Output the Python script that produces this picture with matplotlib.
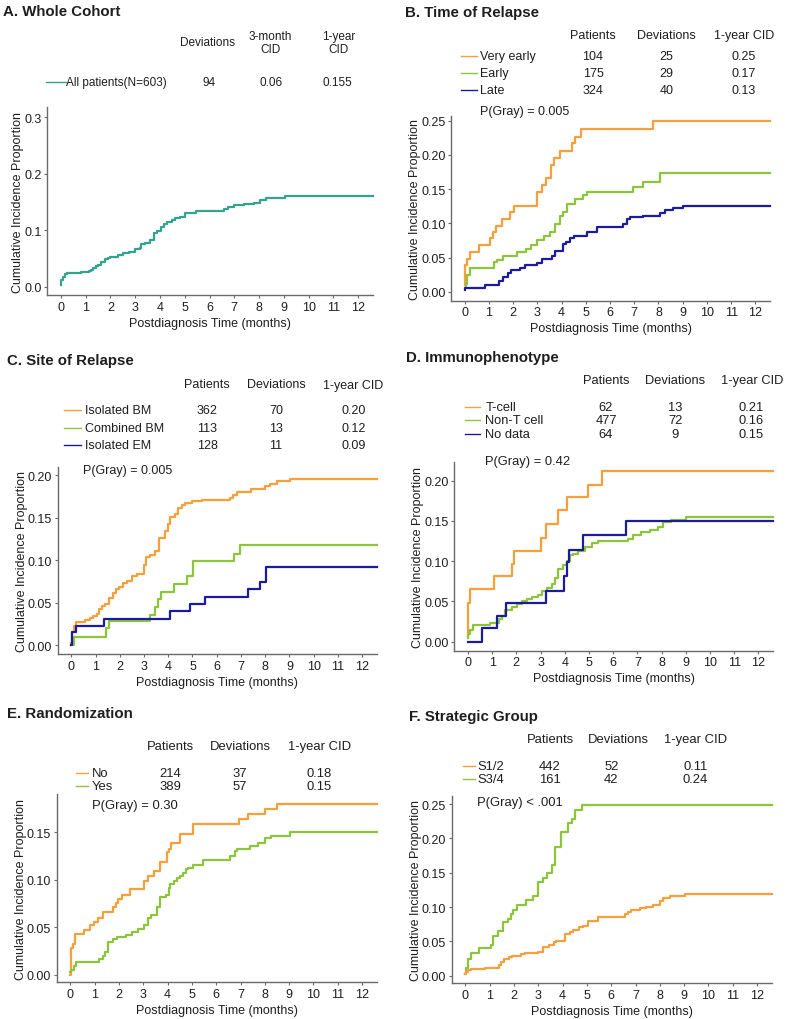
import matplotlib
matplotlib.use("Agg")
import matplotlib.pyplot as plt
from matplotlib.ticker import FormatStrFormatter

plt.rcParams['font.family'] = ['Liberation Sans', 'DejaVu Sans']

W, H = 785, 1020
ORANGE = '#f5a03a'
GREEN = '#8cc43c'
BLUE = '#1b1b9c'
TEAL = '#33a38d'
TXT = '#1e1e1e'
AXC = '#6a6a6a'

MONTHS = list(range(13))
END_TIME = 12.6  # end of follow-up shown

# ---- A. whole cohort: (time in months, cumulative incidence)
a_all = [(0, 0.003), (0.02, 0.011), (0.07, 0.0165), (0.17, 0.022), (0.23, 0.0235),
         (0.8, 0.025), (0.95, 0.0265), (1.12, 0.028), (1.2, 0.030), (1.3, 0.033),
         (1.4, 0.036), (1.5, 0.039), (1.6, 0.044), (1.8, 0.048), (1.9, 0.051),
         (2.0, 0.053), (2.3, 0.056), (2.5, 0.059), (2.75, 0.061), (3.0, 0.067),
         (3.2, 0.069), (3.25, 0.075), (3.4, 0.077), (3.6, 0.083), (3.75, 0.094),
         (3.9, 0.098), (4.05, 0.105), (4.15, 0.111), (4.3, 0.114), (4.5, 0.118),
         (4.6, 0.121), (4.8, 0.124), (5.0, 0.131), (5.45, 0.134), (6.6, 0.137),
         (6.75, 0.141), (7.0, 0.144), (7.4, 0.147), (7.8, 0.148), (8.05, 0.153),
         (8.3, 0.156), (8.6, 0.157), (9.05, 0.160)]
a_headers = ['Deviations', '3-month\nCID', '1-year\nCID']
a_names = ['All patients(N=603)']
a_devs = ['94']
a_cid3 = ['0.06']
a_cid12 = ['0.155']

# ---- B. time of relapse
b_very_early = [(0, 0.010), (0.03, 0.039), (0.1, 0.048), (0.23, 0.058), (0.58, 0.068),
                (1.06, 0.078), (1.17, 0.088), (1.3, 0.096), (1.54, 0.107), (1.88, 0.117),
                (2.02, 0.126), (3.0, 0.146), (3.2, 0.156), (3.37, 0.166), (3.56, 0.186),
                (3.7, 0.196), (3.94, 0.206), (4.42, 0.218), (4.56, 0.227), (4.79, 0.238),
                (7.79, 0.250)]
b_early = [(0, 0.006), (0.07, 0.011), (0.12, 0.024), (0.23, 0.035), (1.2, 0.043),
           (1.33, 0.047), (1.58, 0.053), (2.18, 0.058), (2.54, 0.063), (2.73, 0.068),
           (2.98, 0.076), (3.28, 0.081), (3.53, 0.088), (3.74, 0.099), (3.94, 0.111),
           (4.05, 0.117), (4.22, 0.128), (4.56, 0.135), (4.9, 0.141), (5.04, 0.146),
           (6.96, 0.153), (7.38, 0.160), (8.06, 0.173)]
b_late = [(0, 0.002), (0.02, 0.006), (0.85, 0.010), (1.44, 0.016), (1.57, 0.022),
          (1.79, 0.028), (1.92, 0.032), (2.3, 0.035), (2.5, 0.039), (2.98, 0.042),
          (3.19, 0.048), (3.6, 0.053), (3.74, 0.060), (4.05, 0.070), (4.19, 0.073),
          (4.33, 0.078), (4.52, 0.082), (5.04, 0.088), (5.45, 0.095), (6.55, 0.099),
          (6.72, 0.106), (6.83, 0.109), (7.38, 0.111), (8.06, 0.115), (8.27, 0.120),
          (8.6, 0.123), (9.0, 0.126)]
b_names = ['Very early', 'Early', 'Late']
b_patients = ['104', '175', '324']
b_devs = ['25', '29', '40']
b_cid = ['0.25', '0.17', '0.13']

# ---- C. site of relapse
c_iso_bm = [(0, 0.003), (0.02, 0.016), (0.1, 0.022), (0.2, 0.027), (0.58, 0.030),
            (0.78, 0.032), (0.9, 0.034), (1.06, 0.037), (1.15, 0.043), (1.26, 0.046),
            (1.4, 0.048), (1.54, 0.055), (1.74, 0.061), (1.84, 0.066), (1.95, 0.069),
            (2.12, 0.073), (2.3, 0.076), (2.5, 0.081), (2.73, 0.084), (2.98, 0.095),
            (3.08, 0.104), (3.25, 0.106), (3.46, 0.111), (3.6, 0.126), (3.87, 0.134),
            (3.98, 0.143), (4.08, 0.151), (4.29, 0.155), (4.4, 0.162), (4.56, 0.165),
            (4.7, 0.167), (4.97, 0.170), (5.38, 0.171), (6.55, 0.173), (6.69, 0.177),
            (6.83, 0.180), (7.42, 0.184), (8.0, 0.1875), (8.2, 0.190), (8.48, 0.193),
            (9.02, 0.196)]
c_comb_bm = [(0, 0.0), (0.1, 0.009), (1.43, 0.020), (1.54, 0.028), (3.26, 0.036),
             (3.45, 0.045), (3.56, 0.054), (3.7, 0.063), (4.22, 0.072), (4.77, 0.081),
             (5.04, 0.099), (6.73, 0.108), (6.96, 0.118)]
c_iso_em = [(0, 0.0), (0.01, 0.016), (0.19, 0.023), (1.33, 0.031), (4.08, 0.040),
            (4.9, 0.048), (5.52, 0.057), (7.31, 0.066), (7.79, 0.074), (8.04, 0.092)]
c_names = ['Isolated BM', 'Combined BM', 'Isolated EM']
c_patients = ['362', '113', '128']
c_devs = ['70', '13', '11']
c_cid = ['0.20', '0.12', '0.09']

# ---- D. immunophenotype
d_tcell = [(0, 0.010), (0.02, 0.048), (0.1, 0.065), (1.09, 0.081), (1.81, 0.096),
           (1.91, 0.113), (3.02, 0.129), (3.21, 0.146), (3.74, 0.163), (4.08, 0.179),
           (4.95, 0.195), (5.52, 0.212)]
d_nont = [(0, 0.005), (0.02, 0.0095), (0.1, 0.014), (0.23, 0.021), (0.9, 0.023),
          (1.27, 0.028), (1.4, 0.032), (1.54, 0.039), (1.81, 0.043), (2.02, 0.047),
          (2.23, 0.050), (2.43, 0.053), (2.64, 0.055), (2.88, 0.058), (3.05, 0.063),
          (3.26, 0.067), (3.46, 0.072), (3.6, 0.079), (3.74, 0.090), (3.94, 0.095),
          (4.08, 0.100), (4.22, 0.107), (4.35, 0.109), (4.53, 0.113), (4.84, 0.118),
          (5.11, 0.122), (5.38, 0.125), (6.62, 0.128), (6.83, 0.132), (7.17, 0.136),
          (7.51, 0.139), (7.86, 0.142), (8.06, 0.148), (8.4, 0.151), (9.02, 0.1545)]
d_nodata = [(0, 0.0), (0.58, 0.0166), (1.2, 0.032), (1.57, 0.048), (3.21, 0.063),
            (3.98, 0.081), (4.08, 0.0985), (4.18, 0.114), (4.77, 0.132), (6.55, 0.150)]
d_names = ['T-cell', 'Non-T cell', 'No data']
d_patients = ['62', '477', '64']
d_devs = ['13', '72', '9']
d_cid = ['0.21', '0.16', '0.15']

# ---- E. randomization
e_no = [(0, 0.0), (0.02, 0.028), (0.1, 0.032), (0.2, 0.043), (0.58, 0.047),
        (0.81, 0.052), (0.99, 0.056), (1.13, 0.060), (1.33, 0.066), (1.74, 0.071),
        (1.88, 0.076), (1.98, 0.080), (2.12, 0.084), (2.47, 0.090), (3.01, 0.099),
        (3.21, 0.104), (3.46, 0.109), (3.67, 0.119), (3.96, 0.129), (4.04, 0.133),
        (4.15, 0.139), (4.53, 0.148), (5.04, 0.159), (6.94, 0.164), (7.31, 0.169),
        (8.02, 0.175), (8.5, 0.180)]
e_yes = [(0, 0.0025), (0.03, 0.005), (0.14, 0.0095), (0.23, 0.013), (1.2, 0.0165),
         (1.33, 0.020), (1.43, 0.024), (1.54, 0.034), (1.74, 0.038), (1.92, 0.040),
         (2.29, 0.042), (2.53, 0.0446), (2.77, 0.048), (3.01, 0.0527), (3.19, 0.060),
         (3.32, 0.063), (3.57, 0.071), (3.67, 0.0815), (3.94, 0.084), (4.04, 0.091),
         (4.12, 0.0955), (4.26, 0.099), (4.4, 0.1015), (4.5, 0.104), (4.63, 0.107),
         (4.77, 0.111), (4.86, 0.113), (5.04, 0.116), (5.45, 0.121), (6.55, 0.1255),
         (6.76, 0.130), (6.87, 0.1325), (7.38, 0.136), (7.72, 0.139), (8.02, 0.144),
         (8.27, 0.1465), (9.02, 0.150)]
e_names = ['No', 'Yes']
e_patients = ['214', '389']
e_devs = ['37', '57']
e_cid = ['0.18', '0.15']

# ---- F. strategic group
f_s12 = [(0, 0.002), (0.02, 0.005), (0.1, 0.008), (0.23, 0.0097), (0.82, 0.012),
         (1.4, 0.0155), (1.47, 0.0194), (1.6, 0.024), (1.81, 0.027), (1.92, 0.029),
         (2.29, 0.031), (2.47, 0.033), (2.98, 0.035), (3.21, 0.042), (3.43, 0.045),
         (3.63, 0.0485), (3.74, 0.051), (4.08, 0.061), (4.29, 0.064), (4.42, 0.067),
         (4.67, 0.0705), (4.84, 0.073), (5.04, 0.080), (5.45, 0.085), (6.55, 0.090),
         (6.69, 0.093), (6.83, 0.096), (7.17, 0.098), (7.45, 0.100), (7.72, 0.103),
         (8.0, 0.109), (8.13, 0.1126), (8.4, 0.1155), (8.57, 0.1165), (9.02, 0.119)]
f_s34 = [(0, 0.002), (0.02, 0.012), (0.12, 0.025), (0.23, 0.033), (0.58, 0.040),
         (1.06, 0.045), (1.15, 0.058), (1.33, 0.065), (1.54, 0.078), (1.77, 0.083),
         (1.88, 0.090), (1.98, 0.096), (2.12, 0.103), (2.5, 0.110), (2.77, 0.116),
         (2.98, 0.136), (3.21, 0.143), (3.35, 0.150), (3.57, 0.161), (3.67, 0.187),
         (3.94, 0.209), (4.22, 0.222), (4.4, 0.228), (4.53, 0.242), (4.81, 0.249)]
f_names = ['S1/2', 'S3/4']
f_patients = ['442', '161']
f_devs = ['52', '42']
f_cid = ['0.11', '0.24']

group_headers = ['Patients', 'Deviations', '1-year CID']


fig = plt.figure(figsize=(W / 100, H / 100), dpi=100)


def fx(x):
    return x / W


def fy(y):
    return 1 - y / H


def put(x, y, s, size=9, ha='center', **kw):
    fig.text(fx(x), fy(y), s, fontsize=size, ha=ha, va='center', color=TXT, **kw)


def title(x, y, s):
    put(x, y, s, size=10.8, ha='left', fontweight='bold')


def make_axes(left, top, right, bottom, ylim, yticks, yfmt):
    ax = fig.add_axes([left / W, 1 - bottom / H, (right - left) / W, (bottom - top) / H])
    ax.set_xlim(-0.56, 12.6)
    ax.set_ylim(*ylim)
    ax.set_xticks(MONTHS)
    ax.set_yticks(yticks)
    ax.yaxis.set_major_formatter(FormatStrFormatter(yfmt))
    ax.spines['top'].set_visible(False)
    ax.spines['right'].set_visible(False)
    for s in ['left', 'bottom']:
        ax.spines[s].set_color(AXC)
        ax.spines[s].set_linewidth(1.0)
    ax.tick_params(length=2.5, width=0.8, color=AXC, labelsize=9, labelcolor=TXT, pad=1.5)
    ax.set_xlabel('Postdiagnosis Time (months)', fontsize=9, color=TXT, labelpad=3)
    ax.set_ylabel('Cumulative Incidence Proportion', fontsize=9, color=TXT, labelpad=0)
    ax.patch.set_alpha(0)
    return ax


def step(ax, pts, color):
    t = [p[0] for p in pts] + [END_TIME]
    v = [p[1] for p in pts] + [pts[-1][1]]
    ax.plot(t, v, drawstyle='steps-post', color=color, lw=1.6, clip_on=False)


def legend_table(names, colors, cols, row_ys, line_x, label_x, col_xs, size=9):
    for i, (name, c) in enumerate(zip(names, colors)):
        y = row_ys[i]
        fig.add_artist(plt.Line2D([fx(line_x[0]), fx(line_x[1])], [fy(y), fy(y)],
                                  color=c, lw=1.0, transform=fig.transFigure))
        put(label_x, y, name, size=size, ha='left')
        for col, x in zip(cols, col_xs):
            put(x, y, col[i], size=size)


# ---------- A
title(3, 12, 'A. Whole Cohort')
for h, x in zip(a_headers, [207.7, 270.7, 338.3]):
    put(x, 43.3, h, size=8.5, linespacing=1.05)
legend_table(a_names, [TEAL], [a_devs, a_cid3, a_cid12], [82.7], (45.7, 65.7), 66,
             [209.3, 270.7, 337.7], size=8.5)
ax = make_axes(47, 108, 373, 296, (-0.015, 0.318), [0, 0.1, 0.2, 0.3], '%.1f')
step(ax, a_all, TEAL)

# ---------- B
title(405, 13, 'B. Time of Relapse')
for h, x in zip(group_headers, [593, 666.3, 743.7]):
    put(x, 36, h)
legend_table(b_names, [ORANGE, GREEN, BLUE], [b_patients, b_devs, b_cid],
             [57.3, 74.3, 91], (461.3, 477), 480.3, [593, 666.3, 743.7])
put(480.3, 112.3, 'P(Gray) = 0.005', ha='left')
ax = make_axes(451, 117, 770, 301.7, (-0.013, 0.257), [0, 0.05, 0.10, 0.15, 0.20, 0.25], '%.2f')
for pts, c in zip([b_very_early, b_early, b_late], [ORANGE, GREEN, BLUE]):
    step(ax, pts, c)

# ---------- C
title(6.7, 360.7, 'C. Site of Relapse')
for h, x in zip(group_headers, [207.3, 276, 353.3]):
    put(x, 385.5, h)
legend_table(c_names, [ORANGE, GREEN, BLUE], [c_patients, c_devs, c_cid],
             [410.5, 428.5, 446], (64.3, 81), 85, [207.3, 276, 353.3])
put(83.3, 471, 'P(Gray) = 0.005', ha='left')
ax = make_axes(57.7, 468, 376.7, 655, (-0.0105, 0.21), [0, 0.05, 0.10, 0.15, 0.20], '%.2f')
for pts, c in zip([c_iso_bm, c_comb_bm, c_iso_em], [ORANGE, GREEN, BLUE]):
    step(ax, pts, c)

# ---------- D
title(406, 358.3, 'D. Immunophenotype')
for h, x in zip(group_headers, [606, 675.3, 752]):
    put(x, 380.7, h, size=9.3)
legend_table(d_names, [ORANGE, GREEN, BLUE], [d_patients, d_devs, d_cid],
             [407.7, 421, 435], (464.7, 480.3), 485.3, [606, 675.3, 751.3], size=9.3)
put(485.3, 461.7, 'P(Gray) = 0.42', ha='left', size=9.3)
ax = make_axes(454.3, 463, 773, 651.7, (-0.0112, 0.223), [0, 0.05, 0.10, 0.15, 0.20], '%.2f')
for pts, c in zip([d_tcell, d_nont, d_nodata], [ORANGE, GREEN, BLUE]):
    step(ax, pts, c)

# ---------- E
title(7.3, 714.3, 'E. Randomization')
for h, x in zip(group_headers, [170, 240.7, 319.3]):
    put(x, 746.7, h, size=9.4)
legend_table(e_names, [ORANGE, GREEN], [e_patients, e_devs, e_cid],
             [774.3, 787.3], (76, 88.3), 91.7, [170, 240, 319.3], size=9.4)
put(91.7, 806, 'P(Gray) = 0.30', ha='left', size=9.4)
ax = make_axes(56.7, 795, 376.7, 983.3, (-0.008, 0.1905), [0, 0.05, 0.10, 0.15], '%.2f')
for pts, c in zip([e_no, e_yes], [ORANGE, GREEN]):
    step(ax, pts, c)

# ---------- F
title(408.7, 716.7, 'F. Strategic Group')
for h, x in zip(group_headers, [550.3, 618, 695.3]):
    put(x, 740, h, size=9.4)
legend_table(f_names, [ORANGE, GREEN], [f_patients, f_devs, f_cid],
             [766.7, 780], (463, 475.3), 477, [549.7, 611.3, 695.3], size=9.4)
put(477, 803.3, 'P(Gray) < .001', ha='left', size=9.4)
ax = make_axes(451.7, 797, 771.7, 984.3, (-0.011, 0.2617), [0, 0.05, 0.10, 0.15, 0.20, 0.25], '%.2f')
for pts, c in zip([f_s34, f_s12], [GREEN, ORANGE]):
    step(ax, pts, c)

fig.savefig('out.png', dpi=100, facecolor='white')
